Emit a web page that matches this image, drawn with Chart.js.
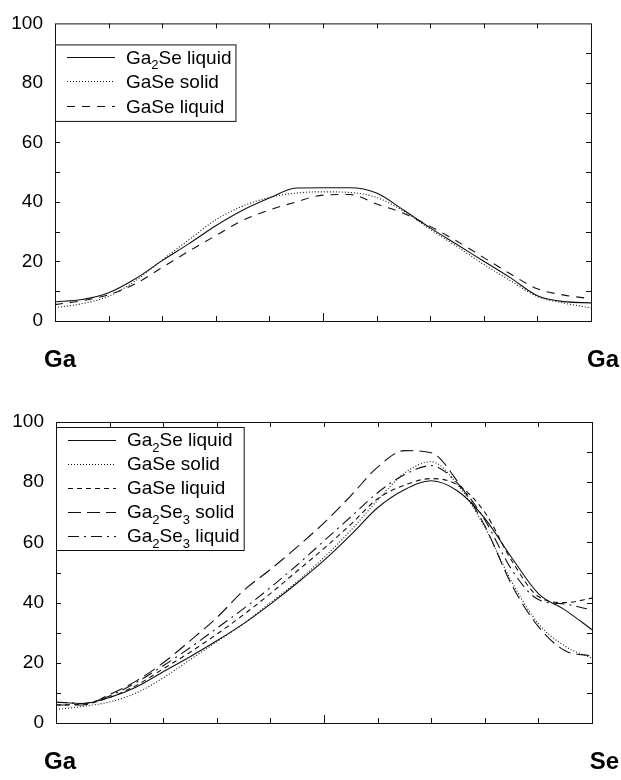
<!DOCTYPE html>
<html>
<head>
<meta charset="utf-8">
<script src="https://cdn.jsdelivr.net/npm/chart.js@4.4.0/dist/chart.umd.min.js"></script>
<style>
  body { margin: 0; background: #fff; }
  .panel { position: absolute; left: 0; width: 621px; height: 390px; }
</style>
</head>
<body>
<div class="panel" style="top:0"><canvas id="topChart" width="621" height="390"></canvas></div>
<div class="panel" style="top:390px"><canvas id="bottomChart" width="621" height="390"></canvas></div>
<script>
const FONT = "'Liberation Sans', Arial, Helvetica, sans-serif";

// positions along the path, shared by both panels
const xs = [0, 0.5, 1, 1.5, 2, 2.5, 3, 3.5, 4, 4.5, 5, 5.5, 6, 6.5, 7, 7.5, 8, 8.5, 9, 9.5, 10];
const xTicks = [1, 2, 3, 4, 5, 6, 7, 8, 9];
const yTicks = [0, 20, 40, 60, 80, 100];

// upper panel: Ga -> Ga
const topEnds = ['Ga', 'Ga'];
const topGa2SeLiquid = [6.4, 7.2, 9.5, 14.2, 20.3, 26, 32, 37.2, 41.3, 44.7, 44.8, 44.8, 43, 37.3, 31.3, 25.7, 20.1, 14.5, 8.5, 6.5, 6.1];
const topGaSeSolid   = [4.5, 5.8, 8.3, 13.5, 20.5, 27.3, 34, 38.6, 41.5, 43, 43.4, 43.2, 41.5, 37, 30.8, 25, 19, 13.5, 8.2, 6, 4.4];
const topGaSeLiquid  = [5.5, 6.8, 8.8, 12.5, 18, 23.5, 28.7, 33.8, 37.3, 40, 42.3, 42.5, 39.3, 36.2, 31.8, 26.8, 21.3, 15.8, 10.8, 8.7, 7.5];

// lower panel: Ga -> Se
const bottomEnds = ['Ga', 'Se'];
const botGa2SeLiquid  = [6.9, 6.5, 8.5, 12, 17, 22, 27.3, 33, 39.5, 46.5, 54, 62.5, 71.5, 77.5, 80.5, 77, 68, 55, 43, 37.5, 31];
const botGaSeSolid    = [4.5, 5.5, 7, 10, 15, 21, 27, 33, 40, 47, 55, 64, 74, 83, 86.8, 79, 65, 47, 33, 25.5, 21.5];
const botGaSeLiquid   = [6, 6.2, 8.5, 12.5, 18, 23.5, 29.5, 36, 43, 50.5, 58, 66, 74.5, 79, 81.2, 79, 70, 54, 42, 40, 41.5];
const botGa2Se3Solid  = [6, 6, 9.5, 14, 20, 27.3, 35, 44, 51, 58.5, 66.5, 75.5, 85, 90.5, 89.8, 80, 65.5, 46, 32, 24, 22.3];
const botGa2Se3Liquid = [7, 6.5, 9, 13.5, 19, 25, 31.5, 38, 45, 52.5, 60.5, 68.5, 76.5, 82.5, 85.5, 79.5, 67.5, 51, 41, 39.5, 37.5];

const SUBS = '₀₁₂₃₄₅₆₇₈₉';

// splits a label into normal and subscript runs
function textRuns(text) {
  const runs = [];
  for (const ch of text) {
    const sub = SUBS.indexOf(ch) >= 0;
    const c = sub ? String(SUBS.indexOf(ch)) : ch;
    if (runs.length && runs[runs.length - 1].sub === sub) runs[runs.length - 1].t += c;
    else runs.push({ sub, t: c });
  }
  return runs;
}

// draws (or only measures) a label with small lowered digits for subscripts
function drawRichText(ctx, text, x, y, size, measureOnly) {
  for (const r of textRuns(text)) {
    ctx.font = (r.sub ? Math.round(size * 0.68) : size) + 'px ' + FONT;
    if (!measureOnly) ctx.fillText(r.t, x, r.sub ? y + size * 0.3 : y);
    x += ctx.measureText(r.t).width;
  }
  return x;
}

const framePlugin = {
  id: 'frame',
  afterDatasetsDraw(chart, args, opts) {
    const { ctx, chartArea: a, scales } = chart;
    const xS = scales.x, yS = scales.y;
    ctx.save();
    ctx.strokeStyle = '#111';
    ctx.lineWidth = 1;
    ctx.setLineDash([]);
    ctx.strokeRect(a.left + 0.5, a.top + 0.5, a.right - a.left, a.bottom - a.top);

    // inward ticks on all four sides
    ctx.beginPath();
    for (let v = 10; v < 100; v += 10) {
      const py = Math.round(yS.getPixelForValue(v)) + 0.5;
      ctx.moveTo(a.left, py); ctx.lineTo(a.left + 5, py);
      ctx.moveTo(a.right, py); ctx.lineTo(a.right - 5, py);
    }
    xTicks.forEach(v => {
      const px = Math.round(xS.getPixelForValue(v)) + 0.5;
      const len = v === 5 ? 8 : 5;
      ctx.moveTo(px, a.bottom); ctx.lineTo(px, a.bottom - len);
      ctx.moveTo(px, a.top); ctx.lineTo(px, a.top + 5);
    });
    ctx.stroke();

    // boxed legend in the upper-left corner
    const sets = chart.data.datasets;
    const size = 19;
    let maxW = 0;
    sets.forEach(d => { maxW = Math.max(maxW, drawRichText(ctx, d.label, 0, 0, size, true)); });
    const bx = a.left, by = a.top + opts.legendTop;
    const bw = 71 + maxW + 4, bh = sets.length * opts.rowH + 3;
    ctx.fillStyle = '#fff';
    ctx.fillRect(bx, by, bw, bh);
    ctx.strokeRect(bx + 0.5, by + 0.5, bw, bh);
    sets.forEach((d, i) => {
      const cy = by + 12.5 + i * opts.rowH;
      ctx.beginPath();
      ctx.setLineDash(d.borderDash || []);
      ctx.lineWidth = 1.1;
      ctx.moveTo(bx + 12, Math.round(cy) + 0.5);
      ctx.lineTo(bx + 60, Math.round(cy) + 0.5);
      ctx.stroke();
      ctx.setLineDash([]);
      ctx.fillStyle = '#000';
      ctx.textBaseline = 'alphabetic';
      ctx.textAlign = 'left';
      drawRichText(ctx, d.label, bx + 71, cy + size * 0.36, size);
    });

    // endpoint labels of the path
    ctx.font = 'bold 24px ' + FONT;
    ctx.fillStyle = '#000';
    ctx.textAlign = 'left';
    ctx.fillText(opts.ends[0], 44, a.bottom + 46);
    ctx.textAlign = 'right';
    ctx.fillText(opts.ends[1], 619, a.bottom + 46);
    ctx.restore();
  }
};

function makeChart(id, series, ends, pad, axisW, legendTop, rowH) {
  return new Chart(document.getElementById(id), {
    type: 'line',
    data: {
      datasets: series.map(s => ({
        label: s.label,
        data: xs.map((x, i) => ({ x, y: s.values[i] })),
        borderColor: '#111',
        borderWidth: 1.1,
        borderDash: s.dash,
        pointRadius: 0,
        cubicInterpolationMode: 'monotone',
        fill: false
      }))
    },
    options: {
      responsive: false,
      animation: false,
      layout: { padding: pad },
      plugins: {
        legend: { display: false },
        tooltip: { enabled: false },
        frame: { ends, legendTop, rowH }
      },
      scales: {
        x: { type: 'linear', min: 0, max: 10, display: false },
        y: {
          min: 0, max: 100,
          afterFit(scale) { scale.width = axisW; },
          grid: { display: false, drawTicks: false },
          border: { display: false },
          ticks: {
            stepSize: 20,
            autoSkip: false,
            padding: 12,
            color: '#000',
            font: { family: FONT, size: 19 },
            callback: v => yTicks.includes(v) ? String(v) : ''
          }
        }
      }
    },
    plugins: [framePlugin]
  });
}

makeChart('topChart', [
  { label: 'Ga₂Se liquid', values: topGa2SeLiquid, dash: [] },
  { label: 'GaSe solid', values: topGaSeSolid, dash: [1, 2] },
  { label: 'GaSe liquid', values: topGaSeLiquid, dash: [8, 7] }
], topEnds, { top: 19, right: 30, bottom: 69, left: 0 }, 55, 21, 24.5);

makeChart('bottomChart', [
  { label: 'Ga₂Se liquid', values: botGa2SeLiquid, dash: [] },
  { label: 'GaSe solid', values: botGaSeSolid, dash: [1, 2] },
  { label: 'GaSe liquid', values: botGaSeLiquid, dash: [5, 4] },
  { label: 'Ga₂Se₃ solid', values: botGa2Se3Solid, dash: [13, 6] },
  { label: 'Ga₂Se₃ liquid', values: botGa2Se3Liquid, dash: [11, 5, 2, 5] }
], bottomEnds, { top: 32, right: 29, bottom: 57, left: 0 }, 56, 5, 24);
</script>
</body>
</html>
